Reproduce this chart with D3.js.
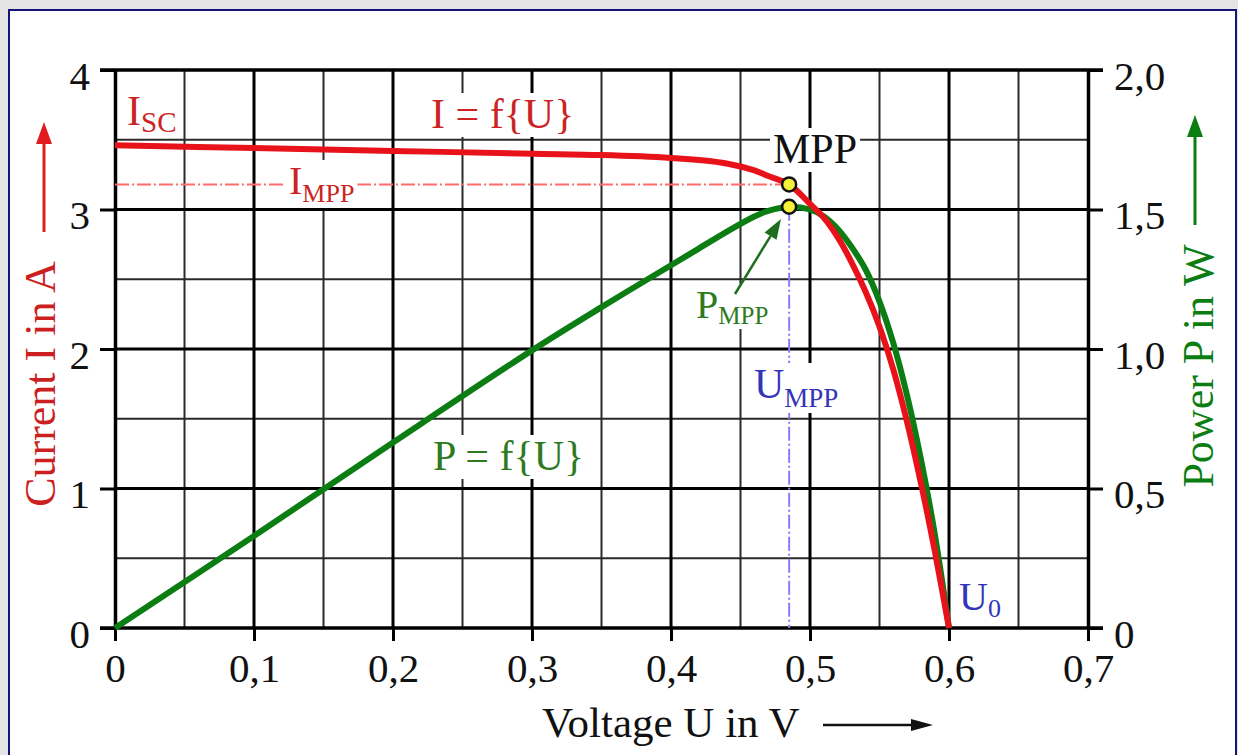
<!DOCTYPE html>
<html>
<head>
<meta charset="utf-8">
<script src="https://cdn.jsdelivr.net/npm/d3@7"></script>
<style>
  body { margin: 0; background: #e4e4e4; }
  svg { display: block; font-family: "Liberation Serif", "DejaVu Serif", serif; }
</style>
</head>
<body>
<div id="chart"></div>
<script>
// Solar cell I-U and P-U characteristic

// Data
const voltage = [0, 0.1, 0.2, 0.3, 0.35, 0.4, 0.42, 0.44, 0.46, 0.47, 0.485, 0.5, 0.51, 0.52, 0.53, 0.54, 0.55, 0.56, 0.57, 0.58, 0.59, 0.6];
const current = [3.46, 3.44, 3.42, 3.40, 3.39, 3.37, 3.355, 3.33, 3.28, 3.24, 3.18, 3.04, 2.94, 2.80, 2.62, 2.41, 2.16, 1.85, 1.47, 1.03, 0.54, 0];
const power   = [0, 0.33, 0.665, 0.995, 1.15, 1.30, 1.36, 1.42, 1.475, 1.495, 1.51, 1.50, 1.475, 1.43, 1.365, 1.285, 1.17, 1.02, 0.83, 0.60, 0.33, 0];

const mppVoltage = 0.485;
const mppCurrent = 3.18;
const mppPower = 1.51;

// Axis ticks
const xTicks = [0, 0.1, 0.2, 0.3, 0.4, 0.5, 0.6, 0.7];
const xTickLabels = ['0', '0,1', '0,2', '0,3', '0,4', '0,5', '0,6', '0,7'];
const iTicks = [0, 1, 2, 3, 4];
const iTickLabels = ['0', '1', '2', '3', '4'];
const pTicks = [0, 0.5, 1, 1.5, 2];
const pTickLabels = ['0', '0,5', '1,0', '1,5', '2,0'];

// Colours
const red = '#e8121a';
const green = '#0c7d12';
const redText = '#cc2424';
const greenText = '#2e7a20';
const blueText = '#3434b8';

const W = 1238, H = 755;

const svg = d3.select('#chart')
    .append('svg')
    .attr('width', W)
    .attr('height', H);

// Frame
svg.append('rect')
    .attr('x', 9).attr('y', 10)
    .attr('width', 1227).attr('height', 770)
    .attr('fill', '#fff')
    .attr('stroke', '#14147a')
    .attr('stroke-width', 2);

// Scales
const x = d3.scaleLinear().domain([0, 0.7]).range([115, 1088]);
const yI = d3.scaleLinear().domain([0, 4]).range([628, 70]);
const yP = d3.scaleLinear().domain([0, 2]).range([628, 70]);

// Grid
const grid = svg.append('g');
d3.range(0.05, 0.7, 0.1).forEach(v => {
    grid.append('line')
        .attr('x1', x(v)).attr('x2', x(v))
        .attr('y1', yI(4)).attr('y2', yI(0))
        .attr('stroke', '#2a2a2a').attr('stroke-width', 2);
});
[0.5, 1.5, 2.5, 3.5].forEach(v => {
    grid.append('line')
        .attr('x1', x(0)).attr('x2', x(0.7))
        .attr('y1', yI(v)).attr('y2', yI(v))
        .attr('stroke', '#2a2a2a').attr('stroke-width', 2);
});
xTicks.slice(1, -1).forEach(v => {
    grid.append('line')
        .attr('x1', x(v)).attr('x2', x(v))
        .attr('y1', yI(4)).attr('y2', yI(0))
        .attr('stroke', '#000').attr('stroke-width', 3);
});
[1, 2, 3].forEach(v => {
    grid.append('line')
        .attr('x1', x(0)).attr('x2', x(0.7))
        .attr('y1', yI(v)).attr('y2', yI(v))
        .attr('stroke', '#000').attr('stroke-width', 3);
});

// Axes
function styleAxis(g, size) {
    g.attr('font-family', null).attr('font-size', null);
    g.select('.domain').attr('stroke', '#000').attr('stroke-width', 3.5);
    g.selectAll('.tick line').attr('stroke', '#000').attr('stroke-width', 3);
    g.selectAll('.tick text').attr('fill', '#111').style('font-size', size + 'px');
}

svg.append('g')
    .attr('transform', `translate(${x(0)},0)`)
    .call(d3.axisLeft(yI).tickValues(iTicks).tickFormat((d, i) => iTickLabels[i])
        .tickSize(15).tickSizeOuter(0).tickPadding(10))
    .call(g => styleAxis(g, 41))
    .call(g => g.selectAll('.tick text').attr('dy', '0.47em'));

svg.append('g')
    .attr('transform', `translate(${x(0.7)},0)`)
    .call(d3.axisRight(yP).tickValues(pTicks).tickFormat((d, i) => pTickLabels[i])
        .tickSize(15).tickSizeOuter(0).tickPadding(11))
    .call(g => styleAxis(g, 41))
    .call(g => g.selectAll('.tick text').attr('dy', '0.47em'));

svg.append('g')
    .attr('transform', `translate(0,${yI(0)})`)
    .call(d3.axisBottom(x).tickValues(xTicks).tickFormat((d, i) => xTickLabels[i])
        .tickSize(13).tickSizeOuter(0).tickPadding(12))
    .call(g => styleAxis(g, 41))
    .call(g => g.select('.domain').attr('d', `M${x(0) - 15},0H${x(0.7) + 15}`));

svg.append('line')
    .attr('x1', x(0) - 15).attr('x2', x(0.7) + 15)
    .attr('y1', yI(4)).attr('y2', yI(4))
    .attr('stroke', '#000').attr('stroke-width', 3.5);

// MPP guide lines
svg.append('line')
    .attr('x1', x(0)).attr('x2', x(mppVoltage))
    .attr('y1', yI(mppCurrent)).attr('y2', yI(mppCurrent))
    .attr('stroke', '#ff6a6a').attr('stroke-width', 2)
    .attr('stroke-dasharray', '14,3,2,3');

svg.append('line')
    .attr('x1', x(mppVoltage)).attr('x2', x(mppVoltage))
    .attr('y1', yP(mppPower)).attr('y2', yI(0))
    .attr('stroke', '#8a7cff').attr('stroke-width', 2)
    .attr('stroke-dasharray', '14,3,2,3');

// Text labels with optional subscript and white background
function label(px, py, main, sub, color, size, subSize, subDy, bg) {
    const g = svg.append('g');
    const t = g.append('text')
        .attr('x', px).attr('y', py)
        .attr('fill', color)
        .style('font-size', size + 'px');
    t.append('tspan').text(main);
    if (sub) {
        t.append('tspan')
            .attr('dy', subDy)
            .style('font-size', subSize + 'px')
            .text(sub);
    }
    if (bg) {
        const b = t.node().getBBox();
        g.insert('rect', 'text')
            .attr('x', b.x - 3).attr('y', b.y + 2)
            .attr('width', b.width + 6).attr('height', b.height - 2)
            .attr('fill', '#fff');
    }
}

label(127, 125, 'I', 'SC', redText, 42, 29, 7, false);
label(431, 128, 'I = f{U}', null, redText, 42, 0, 0, true);
label(289, 194, 'I', 'MPP', redText, 40, 26, 8, true);
label(773, 163, 'MPP', null, '#111', 42, 0, 0, true);
label(696, 318, 'P', 'MPP', greenText, 40, 25, 6, true);
label(754, 398, 'U', 'MPP', blueText, 42, 27, 9, true);
label(959, 610, 'U', '0', blueText, 40, 26, 7, false);
label(433, 470, 'P = f{U}', null, greenText, 42, 0, 0, true);

// Curves
const powerLine = d3.line()
    .x((d, i) => x(voltage[i]))
    .y(d => yP(d))
    .curve(d3.curveCatmullRom.alpha(0.5));

const currentLine = d3.line()
    .x((d, i) => x(voltage[i]))
    .y(d => yI(d))
    .curve(d3.curveCatmullRom.alpha(0.5));

svg.append('path')
    .datum(power)
    .attr('d', powerLine)
    .attr('fill', 'none')
    .attr('stroke', green)
    .attr('stroke-width', 6);

svg.append('path')
    .datum(current)
    .attr('d', currentLine)
    .attr('fill', 'none')
    .attr('stroke', red)
    .attr('stroke-width', 6);

// MPP dots
[[x(mppVoltage), yI(mppCurrent)], [x(mppVoltage), yP(mppPower)]].forEach(p => {
    svg.append('circle')
        .attr('cx', p[0]).attr('cy', p[1]).attr('r', 7)
        .attr('fill', '#f5f03a')
        .attr('stroke', '#111')
        .attr('stroke-width', 2.5);
});

// Arrows
function arrow(x1, y1, x2, y2, color, width, headLen, headHalf) {
    const a = Math.atan2(y2 - y1, x2 - x1);
    const bx = x2 - headLen * Math.cos(a), by = y2 - headLen * Math.sin(a);
    svg.append('line')
        .attr('x1', x1).attr('y1', y1).attr('x2', bx).attr('y2', by)
        .attr('stroke', color).attr('stroke-width', width);
    const nx = -Math.sin(a) * headHalf, ny = Math.cos(a) * headHalf;
    svg.append('path')
        .attr('d', `M${x2},${y2}L${bx + nx},${by + ny}L${bx - nx},${by - ny}Z`)
        .attr('fill', color);
}

arrow(735, 294, 781, 219, '#1f6e1f', 2.5, 20, 7);

// Axis titles
svg.append('text')
    .attr('x', 542).attr('y', 737)
    .attr('fill', '#111')
    .style('font-size', '43px')
    .text('Voltage U in V');
arrow(823, 725, 933, 725, '#111', 2.5, 22, 6);

svg.append('text')
    .attr('transform', 'translate(55,384) rotate(-90)')
    .attr('text-anchor', 'middle')
    .attr('fill', '#cc1f1f')
    .style('font-size', '44px')
    .text('Current I in A');
arrow(44, 232, 44, 122, '#e01c1c', 3, 22, 8);

svg.append('text')
    .attr('transform', 'translate(1213,366) rotate(-90)')
    .attr('text-anchor', 'middle')
    .attr('fill', green)
    .style('font-size', '44px')
    .text('Power P in W');
arrow(1195, 225, 1195, 115, green, 3, 22, 8);
</script>
</body>
</html>
